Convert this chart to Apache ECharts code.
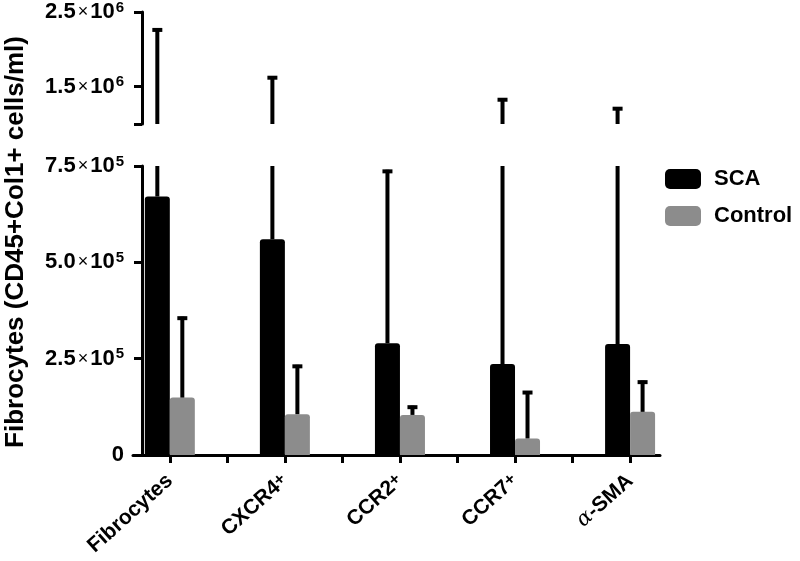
<!DOCTYPE html>
<html>
<head>
    <meta charset="utf-8">
    <title>Fibrocytes</title>
    <script src="https://cdn.jsdelivr.net/npm/echarts@6.0.0/dist/echarts.min.js"></script>
    <style>
        html, body { margin: 0; padding: 0; background: #fff; }
        #grafico { width: 800px; height: 561px; }
    </style>
</head>
<body>
    <div id="grafico"></div>
    <script>
        // Datos
        const categorias = ['Fibrocytes', 'CXCR4+', 'CCR2+', 'CCR7+', 'α-SMA'];
        const scaMedia = [6.71e5, 5.60e5, 2.90e5, 2.36e5, 2.88e5];
        const scaSuperior = [2.28e6, 1.64e6, 7.40e5, 1.345e6, 1.225e6];
        const controlMedia = [1.49e5, 1.06e5, 1.04e5, 0.43e5, 1.12e5];
        const controlSuperior = [3.59e5, 2.34e5, 1.28e5, 1.66e5, 1.93e5];

        // Ticks del eje (eje cortado)
        const ticksInferior = [0, 2.5e5, 5.0e5, 7.5e5];
        const ticksSuperior = [1.0e6, 1.5e6, 2.5e6];
        const etiquetasSuperior = [1.5e6, 2.5e6];
        const ticksX = [0, 0.5, 1, 1.5, 2, 2.5, 3, 3.5, 4];
        const posicionesX = [0, 1, 2, 3, 4];

        const fuente = 'Liberation Sans, Arial, sans-serif';
        const gris = '#8c8c8c';

        function etiquetaCientifica(v) {
            if (v === 0) return '{n|0}';
            const e = Math.floor(Math.log10(v) + 1e-9);
            const m = v / Math.pow(10, e);
            return '{n|' + m.toFixed(1) + '}{x|×}{n|10}{s|' + e + '}';
        }

        const richY = {
            n: { fontSize: 22, fontWeight: 'bold', color: '#000', fontFamily: fuente, lineHeight: 24 },
            x: { fontSize: 18, color: '#000', fontFamily: fuente, lineHeight: 24, padding: [0, 2, 0, 2] },
            s: { fontSize: 15, fontWeight: 'bold', color: '#000', fontFamily: fuente, verticalAlign: 'top', lineHeight: 24, padding: [0, 0, 0, 1] }
        };

        function etiquetaX(v) {
            const nombre = categorias[Math.round(v)];
            if (nombre.startsWith('α')) return '{g|α}{b|' + nombre.slice(1) + '}';
            if (nombre.endsWith('+')) return '{b|' + nombre.slice(0, -1) + '}{p|+}';
            return '{b|' + nombre + '}';
        }

        // Barras de error (solo hacia arriba)
        function barraError(desplazamiento) {
            return function (params, api) {
                const x = api.value(0);
                const p0 = api.coord([x, api.value(1)]);
                const p1 = api.coord([x, api.value(2)]);
                const cx = p0[0] + desplazamiento;
                return {
                    type: 'group',
                    children: [
                        { type: 'line', shape: { x1: cx, y1: p0[1], x2: cx, y2: p1[1] }, style: { stroke: '#000', lineWidth: 4 } },
                        { type: 'line', shape: { x1: cx - 5, y1: p1[1] + 1.5, x2: cx + 5, y2: p1[1] + 1.5 }, style: { stroke: '#000', lineWidth: 4 } }
                    ]
                };
            };
        }

        const datosSca = scaMedia.map((v, i) => [i, v]);
        const datosControl = controlMedia.map((v, i) => [i, v]);
        const errSca = scaMedia.map((v, i) => [i, v, scaSuperior[i]]);
        const errControl = controlMedia.map((v, i) => [i, v, controlSuperior[i]]);

        const ejeY = {
            axisLine: { show: true, onZero: false, lineStyle: { color: '#000', width: 3 } },
            splitLine: { show: false },
            offset: -9
        };

        const grafico = echarts.init(document.getElementById('grafico'));
        grafico.setOption({
            animation: false,
            backgroundColor: '#fff',
            grid: [
                { left: 133, right: 140, top: 166, bottom: 106 },
                { left: 133, right: 140, top: 11, height: 113 }
            ],
            xAxis: [
                {
                    type: 'value', gridIndex: 0, min: -0.32, max: 4.26,
                    axisLine: { onZero: false, lineStyle: { color: '#000', width: 3 } },
                    axisTick: { show: true, customValues: ticksX, length: 8, lineStyle: { color: '#000', width: 3 } },
                    axisLabel: {
                        customValues: posicionesX, rotate: 42, margin: 23,
                        formatter: etiquetaX,
                        rich: {
                            b: { fontSize: 21, fontWeight: 'bold', color: '#000', fontFamily: fuente },
                            p: { fontSize: 17, fontWeight: 'bold', color: '#000', fontFamily: fuente, verticalAlign: 'top' },
                            g: { fontSize: 21, color: '#000', fontFamily: 'DejaVu Serif, serif', fontStyle: 'italic' }
                        }
                    },
                    splitLine: { show: false }
                },
                { type: 'value', gridIndex: 1, min: -0.32, max: 4.26, show: false }
            ],
            yAxis: [
                Object.assign({
                    type: 'value', gridIndex: 0, min: 0, max: 7.5e5,
                    axisTick: { show: true, customValues: ticksInferior, length: 8, lineStyle: { color: '#000', width: 3 } },
                    axisLabel: { customValues: ticksInferior, margin: 18, formatter: etiquetaCientifica, rich: richY }
                }, ejeY),
                Object.assign({
                    type: 'value', gridIndex: 1, min: 1.0e6, max: 2.5e6,
                    axisTick: { show: true, customValues: ticksSuperior, length: 8, lineStyle: { color: '#000', width: 3 } },
                    axisLabel: { customValues: etiquetasSuperior, margin: 18, formatter: etiquetaCientifica, rich: richY }
                }, ejeY)
            ],
            legend: {
                data: ['SCA', 'Control'],
                orient: 'vertical',
                left: 660, top: 163,
                itemWidth: 36, itemHeight: 20, itemGap: 15,
                icon: 'roundRect',
                textStyle: { fontSize: 22, fontWeight: 'bold', color: '#000', fontFamily: fuente, padding: [0, 0, 0, 8] }
            },
            graphic: [{
                type: 'text',
                x: 16, y: 242,
                rotation: Math.PI / 2,
                style: {
                    text: 'Fibrocytes (CD45+Col1+ cells/ml)',
                    font: 'bold 26px ' + fuente,
                    fill: '#000',
                    textAlign: 'center',
                    textVerticalAlign: 'middle'
                }
            }],
            series: [
                {
                    name: 'SCA', type: 'bar', xAxisIndex: 0, yAxisIndex: 0,
                    barWidth: 25, barGap: '0%',
                    itemStyle: { color: '#000', borderRadius: [3, 3, 0, 0] },
                    data: datosSca, z: 2
                },
                {
                    name: 'Control', type: 'bar', xAxisIndex: 0, yAxisIndex: 0,
                    barWidth: 25, barGap: '0%',
                    itemStyle: { color: gris, borderRadius: [3, 3, 0, 0] },
                    data: datosControl, z: 2
                },
                { name: 'errSca', type: 'custom', xAxisIndex: 0, yAxisIndex: 0, clip: true, renderItem: barraError(-12.5), data: errSca, z: 3 },
                { name: 'errControl', type: 'custom', xAxisIndex: 0, yAxisIndex: 0, clip: true, renderItem: barraError(12.5), data: errControl, z: 3 },
                { name: 'errScaSup', type: 'custom', xAxisIndex: 1, yAxisIndex: 1, clip: true, renderItem: barraError(-12.5), data: errSca, z: 3 }
            ]
        });
    </script>
</body>
</html>
